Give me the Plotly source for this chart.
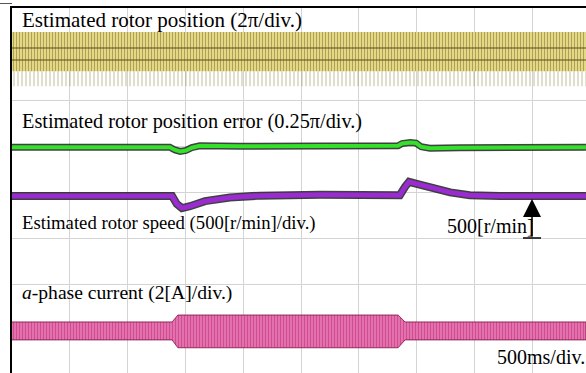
import plotly.graph_objects as go

# ---------------- data (oscilloscope screen divisions) ----------------
# time axis: 0..10 div (500 ms/div); vertical: 0..8 div (0 = bottom of screen)
speed_t = [0.00, 2.77, 2.85, 2.94, 3.08, 3.34, 3.77, 4.29, 5.33, 6.71, 6.80, 6.87, 7.02, 7.28, 7.58, 7.92, 8.44, 9.93]
speed_v = [3.92, 3.92, 3.75, 3.66, 3.70, 3.81, 3.89, 3.93, 3.95, 3.94, 4.12, 4.23, 4.18, 4.09, 4.00, 3.94, 3.92, 3.92]

error_t = [0.00, 2.73, 2.82, 2.91, 3.01, 3.11, 3.25, 3.94, 6.68, 6.75, 6.89, 6.99, 7.08, 7.23, 7.75, 9.93]
error_v = [4.98, 4.98, 4.92, 4.89, 4.91, 4.97, 5.01, 5.00, 5.01, 5.06, 5.08, 5.07, 4.99, 4.96, 4.97, 4.98]

pos_t = [0.00, 9.93]
pos_hi = [7.48, 7.48]
pos_lo = [6.63, 6.63]
pos_tail = [6.30, 6.30]
pos_dark1 = [7.13, 7.13]
pos_dark2 = [6.87, 6.87]

cur_t = [0.00, 2.77, 2.87, 6.68, 6.80, 9.93]
cur_hi = [1.19, 1.19, 1.34, 1.34, 1.19, 1.19]
cur_lo = [0.80, 0.80, 0.63, 0.63, 0.80, 0.80]

labels = ["Estimated rotor position (2π/div.)",
          "Estimated rotor position error (0.25π/div.)",
          "Estimated rotor speed (500[r/min]/div.)",
          "<i>a</i>-phase current (2[A]/div.)"]

# ---------------- layout helpers ----------------
W, H = 586, 373
L, T = 12, 8
DX, DY = 57.8, 46.1
XMAX = (W - L) / DX
YMIN = 8 - (H - T) / DY


def X(px):
    return (px - L) / DX


def Y(py):
    return 8 - (py - T) / DY


def band(t, hi, lo):
    return list(t) + list(t)[::-1], list(hi) + list(lo)[::-1]


fig = go.Figure()

# position band (yellow)
bx, by = band(pos_t, pos_lo, pos_tail)
fig.add_trace(go.Scatter(x=bx, y=by, mode="lines", line=dict(width=0), fill="toself",
                         fillcolor="rgba(0,0,0,0)",
                         fillpattern=dict(shape="|", fgcolor="#8a7a3a", bgcolor="rgba(255,255,255,0)",
                                          size=4, solidity=0.25),
                         hoverinfo="skip"))
bx, by = band(pos_t, pos_hi, pos_lo)
fig.add_trace(go.Scatter(x=bx, y=by, mode="lines", line=dict(width=0), fill="toself",
                         fillpattern=dict(shape="|", fgcolor="#6e6030", bgcolor="#efe38a",
                                          size=3, solidity=0.45),
                         hoverinfo="skip"))
for d in (pos_dark1, pos_dark2):
    fig.add_trace(go.Scatter(x=pos_t, y=d, mode="lines",
                             line=dict(color="rgba(90,75,30,0.5)", width=2), hoverinfo="skip"))

# error (green)
fig.add_trace(go.Scatter(x=error_t, y=error_v, mode="lines",
                         line=dict(color="rgba(30,30,30,0.85)", width=7), hoverinfo="skip"))
fig.add_trace(go.Scatter(x=error_t, y=error_v, mode="lines",
                         line=dict(color="#33e02a", width=4), hoverinfo="skip"))

# speed (purple)
fig.add_trace(go.Scatter(x=speed_t, y=speed_v, mode="lines",
                         line=dict(color="rgba(30,30,30,0.85)", width=8), hoverinfo="skip"))
fig.add_trace(go.Scatter(x=speed_t, y=speed_v, mode="lines",
                         line=dict(color="#9a2bd0", width=5), hoverinfo="skip"))

# current (pink)
bx, by = band(cur_t, cur_hi, cur_lo)
fig.add_trace(go.Scatter(x=bx, y=by, mode="lines", line=dict(width=0.8, color="#7a1040"), fill="toself",
                         fillpattern=dict(shape="|", fgcolor="#b80a62", bgcolor="#ec8cbf",
                                          size=3, solidity=0.6),
                         hoverinfo="skip"))

ann = []
FAM = "Liberation Serif, Times New Roman, serif"
for txt, py, fs in zip(labels, [20, 121.5, 223, 293], [21, 20.3, 18.7, 19.6]):
    ann.append(dict(x=X(20), y=Y(py), text=txt, showarrow=False, xanchor="left", yanchor="middle",
                    font=dict(family=FAM, size=fs, color="black")))
ann.append(dict(x=X(495), y=Y(357), text="500ms/div.", showarrow=False, xanchor="left",
                yanchor="middle", font=dict(family=FAM, size=20, color="black")))
ann.append(dict(x=X(445), y=Y(226), text="500[r/min]", showarrow=False, xanchor="left",
                yanchor="middle", font=dict(family=FAM, size=20, color="black")))
# arrow
ann.append(dict(x=X(532), y=Y(199), ax=X(532), ay=Y(238), axref="x", ayref="y", xref="x", yref="y",
                text="", showarrow=True, arrowhead=2, arrowsize=2.4, arrowwidth=1.5, arrowcolor="black"))
# channel markers
for ch, py, col in [("1", 53, "#d8b800"), ("2", 148, "#33c02a"), ("3", 240, "#a43cd0"), ("4", 331, "#e02c86")]:
    ann.append(dict(x=X(6), y=Y(py), text=ch + "▸", showarrow=False, xanchor="center", yanchor="middle",
                    font=dict(family="DejaVu Sans", size=9, color=col)))

shapes = [
    dict(type="line", xref="x", yref="y", x0=X(523), x1=X(541), y0=Y(238), y1=Y(238),
         line=dict(color="black", width=1.5)),
    dict(type="line", xref="paper", yref="paper", x0=-L / (W - L), x1=0, y0=1 + 4.5 / (H - T), y1=1 + 4.5 / (H - T),
         line=dict(color="#555555", width=1)),
]

fig.update_layout(
    width=W, height=H,
    margin=dict(l=L, r=0, t=T, b=0, pad=0),
    paper_bgcolor="white", plot_bgcolor="white",
    showlegend=False,
    annotations=ann, shapes=shapes,
    xaxis=dict(range=[0, XMAX], dtick=1, tick0=0, showgrid=True, gridcolor="#d4d4d4", gridwidth=1,
               zeroline=False, showticklabels=False, ticks="", side="top",
               showline=True, linecolor="black", linewidth=2, fixedrange=True),
    yaxis=dict(range=[YMIN, 8], dtick=1, tick0=0, showgrid=True, gridcolor="#d4d4d4", gridwidth=1,
               zeroline=False, showticklabels=False, ticks="",
               showline=True, linecolor="black", linewidth=2, fixedrange=True),
)

fig.write_html("out.html", config={"displayModeBar": False},
               post_script="document.body.style.margin='0px';document.body.style.overflow='hidden';")
